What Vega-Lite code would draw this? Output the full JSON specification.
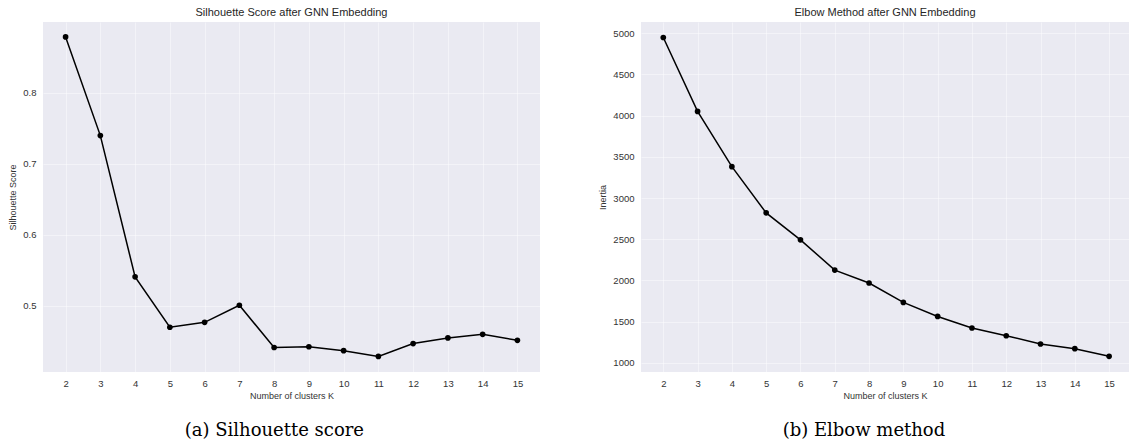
{
  "$schema": "https://vega.github.io/schema/vega-lite/v6.json",
  "padding": {"left": 8, "top": 7, "right": 0, "bottom": 0},
  "background": "white",
  "config": {
    "font": "Liberation Sans",
    "view": {"fill": "#EAEAF2", "stroke": null},
    "axis": {
      "domain": false,
      "ticks": false,
      "gridColor": "#ffffff",
      "gridOpacity": 0.45,
      "gridWidth": 1,
      "labelFont": "Liberation Sans",
      "labelFontSize": 9.5,
      "labelColor": "#333333",
      "titleFont": "Liberation Sans",
      "titleFontSize": 9,
      "titleFontWeight": "normal",
      "titleColor": "#333333"
    },
    "axisX": {"labelPadding": 6, "titlePadding": 4},
    "axisY": {"labelPadding": 7, "titlePadding": 5},
    "title": {"font": "Liberation Sans", "fontSize": 11, "fontWeight": "normal", "color": "#262626"},
    "concat": {"spacing": 58}
  },
  "datasets": {
    "sil": [
      {"k": 2, "score": 0.879},
      {"k": 3, "score": 0.740},
      {"k": 4, "score": 0.541},
      {"k": 5, "score": 0.470},
      {"k": 6, "score": 0.477},
      {"k": 7, "score": 0.501},
      {"k": 8, "score": 0.4415},
      {"k": 9, "score": 0.4426},
      {"k": 10, "score": 0.437},
      {"k": 11, "score": 0.429},
      {"k": 12, "score": 0.447},
      {"k": 13, "score": 0.455},
      {"k": 14, "score": 0.460},
      {"k": 15, "score": 0.4516}
    ],
    "inertia": [
      {"k": 2, "inertia": 4947},
      {"k": 3, "inertia": 4051},
      {"k": 4, "inertia": 3380},
      {"k": 5, "inertia": 2820},
      {"k": 6, "inertia": 2493},
      {"k": 7, "inertia": 2126},
      {"k": 8, "inertia": 1969},
      {"k": 9, "inertia": 1734},
      {"k": 10, "inertia": 1564},
      {"k": 11, "inertia": 1424},
      {"k": 12, "inertia": 1330},
      {"k": 13, "inertia": 1230},
      {"k": 14, "inertia": 1173},
      {"k": 15, "inertia": 1080}
    ]
  },
  "hconcat": [
    {
      "title": {"text": "(a) Silhouette score", "orient": "bottom", "anchor": "middle", "font": "DejaVu Serif", "fontSize": 18, "fontWeight": "normal", "color": "#000000", "offset": 21},
      "vconcat": [
        {
          "title": {"text": "Silhouette Score after GNN Embedding", "anchor": "middle", "frame": "group", "offset": 4},
          "width": 497,
          "height": 350,
          "data": {"name": "sil"},
          "mark": {"type": "line", "color": "black", "strokeWidth": 1.5, "point": {"filled": true, "size": 32, "color": "black", "opacity": 1}},
          "encoding": {
            "x": {"field": "k", "type": "quantitative", "title": "Number of clusters K",
                  "scale": {"domain": [1.35, 15.65], "nice": false, "zero": false},
                  "axis": {"values": [2,3,4,5,6,7,8,9,10,11,12,13,14,15], "format": "d"}},
            "y": {"field": "score", "type": "quantitative", "title": "Silhouette Score",
                  "scale": {"domain": [0.407, 0.9], "nice": false, "zero": false},
                  "axis": {"values": [0.5, 0.6, 0.7, 0.8], "format": ".1f"}}
          }
        }
      ]
    },
    {
      "title": {"text": "(b) Elbow method", "orient": "bottom", "anchor": "middle", "font": "DejaVu Serif", "fontSize": 18, "fontWeight": "normal", "color": "#000000", "offset": 21},
      "vconcat": [
        {
          "title": {"text": "Elbow Method after GNN Embedding", "anchor": "middle", "frame": "group", "offset": 4},
          "width": 488,
          "height": 350,
          "data": {"name": "inertia"},
          "mark": {"type": "line", "color": "black", "strokeWidth": 1.5, "point": {"filled": true, "size": 32, "color": "black", "opacity": 1}},
          "encoding": {
            "x": {"field": "k", "type": "quantitative", "title": "Number of clusters K",
                  "scale": {"domain": [1.35, 15.58], "nice": false, "zero": false},
                  "axis": {"values": [2,3,4,5,6,7,8,9,10,11,12,13,14,15], "format": "d"}},
            "y": {"field": "inertia", "type": "quantitative", "title": "Inertia",
                  "scale": {"domain": [890, 5135], "nice": false, "zero": false},
                  "axis": {"values": [1000,1500,2000,2500,3000,3500,4000,4500,5000], "format": "d"}}
          }
        }
      ]
    }
  ]
}
